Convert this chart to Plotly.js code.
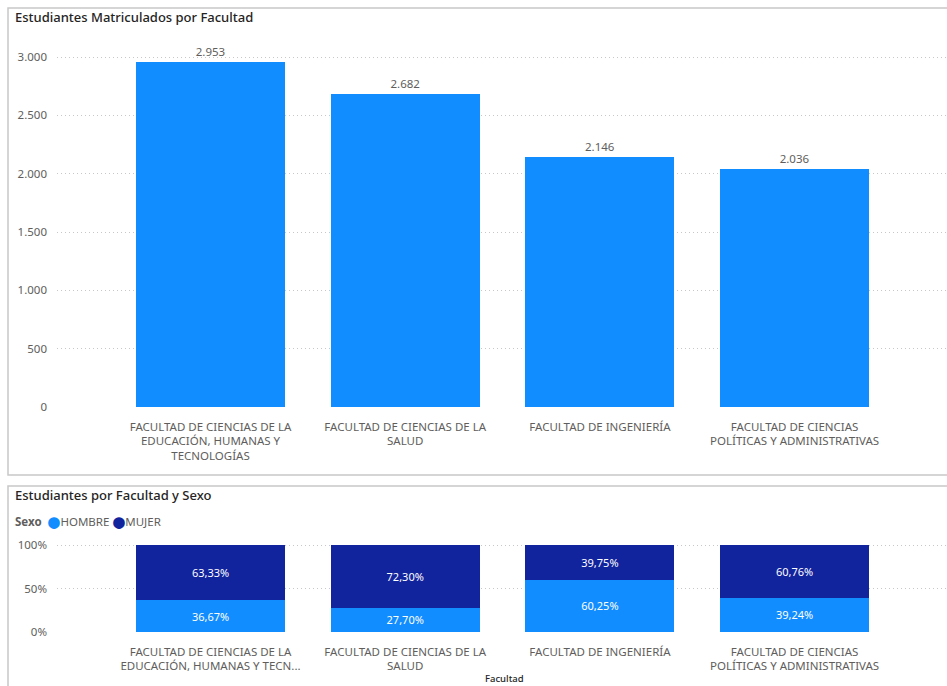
<!DOCTYPE html>
<html>
<head>
<meta charset="utf-8">
<script src="https://cdn.plot.ly/plotly-3.0.1.min.js"></script>
<style>html,body{margin:0;padding:0;background:#fff;}#chart{width:947px;height:686px;}</style>
</head>
<body>
<div id="chart"></div>
<script>
// ---- data ----
const facultades = ["CIENCIAS EDUCACIÓN", "CIENCIAS SALUD", "INGENIERÍA", "CIENCIAS POLÍTICAS"];
const etiquetasArriba = [
  "FACULTAD DE CIENCIAS DE LA<br>EDUCACIÓN, HUMANAS Y<br>TECNOLOGÍAS",
  "FACULTAD DE CIENCIAS DE LA<br>SALUD",
  "FACULTAD DE INGENIERÍA",
  "FACULTAD DE CIENCIAS<br>POLÍTICAS Y ADMINISTRATIVAS"
];
const etiquetasAbajo = [
  "FACULTAD DE CIENCIAS DE LA<br>EDUCACIÓN, HUMANAS Y TECN...",
  "FACULTAD DE CIENCIAS DE LA<br>SALUD",
  "FACULTAD DE INGENIERÍA",
  "FACULTAD DE CIENCIAS<br>POLÍTICAS Y ADMINISTRATIVAS"
];
const matriculados = [2953, 2682, 2146, 2036];
const hombre = [36.67, 27.70, 60.25, 39.24];
const mujer = [63.33, 72.30, 39.75, 60.76];
const yTicksTop = [0, 500, 1000, 1500, 2000, 2500, 3000];
const yTicksBottom = [0, 50, 100];
const yTickTextBottom = ["0%", "50%", "100%"];

// ---- style ----
const W = 947, H = 686;
const FONT = "Noto Sans, Segoe UI, sans-serif";
const C_LIGHT = "#118DFF", C_DARK = "#12239E";
const GRAY = "#605E5C", DARK = "#252423";
const px = x => x / W;
const py = y => 1 - y / H;
const idx = facultades.map((_, i) => i);

const traces = [
  {
    type: "bar", x: idx, y: matriculados, xaxis: "x", yaxis: "y",
    marker: {color: C_LIGHT}, width: 0.765,
    texttemplate: "%{y:,d}", textposition: "outside", cliponaxis: false,
    textfont: {family: FONT, size: 11.5, color: GRAY},
    hoverinfo: "skip", showlegend: false
  },
  {
    type: "bar", x: idx, y: hombre, xaxis: "x2", yaxis: "y2", name: "HOMBRE",
    marker: {color: C_LIGHT}, width: 0.765,
    texttemplate: "%{y:.2f}%", textposition: "inside", insidetextanchor: "middle",
    constraintext: "none",
    textfont: {family: FONT, size: 11, color: "#ffffff"},
    hoverinfo: "skip", showlegend: false
  },
  {
    type: "bar", x: idx, y: mujer, xaxis: "x2", yaxis: "y2", name: "MUJER",
    marker: {color: C_DARK}, width: 0.765,
    texttemplate: "%{y:.2f}%", textposition: "inside", insidetextanchor: "middle",
    constraintext: "none",
    textfont: {family: FONT, size: 11, color: "#ffffff"},
    hoverinfo: "skip", showlegend: false
  }
];

const xr = [-(210.5 - 57) / 194.7, (947 - 210.5) / 194.7];
const xaxisBase = {
  range: xr, showgrid: false, zeroline: false, showline: false, ticks: "",
  tickvals: idx, tickfont: {family: FONT, size: 11.5, color: GRAY},
  ticklabelstandoff: 11, fixedrange: true
};
const gridStyle = {showgrid: true, gridcolor: "#c8c8c8", griddash: "1px,3px", gridwidth: 1};

const layout = {
  width: W, height: H,
  margin: {l: 0, r: 0, t: 0, b: 0},
  paper_bgcolor: "#fff", plot_bgcolor: "#fff",
  separators: ",.",
  barmode: "stack",
  font: {family: FONT, color: GRAY},
  xaxis: Object.assign({}, xaxisBase, {domain: [px(57), 1], anchor: "y", ticktext: etiquetasArriba}),
  yaxis: Object.assign({
    domain: [py(407), py(40)], anchor: "x",
    range: [0, 3000 * (407 - 40) / 350],
    tickvals: yTicksTop, tickformat: ",d",
    zeroline: false, showline: false, ticks: "",
    tickfont: {family: FONT, size: 11.5, color: GRAY}, ticklabelstandoff: 9
  }, gridStyle),
  xaxis2: Object.assign({}, xaxisBase, {domain: [px(57), 1], anchor: "y2", ticktext: etiquetasAbajo}),
  yaxis2: Object.assign({
    domain: [py(632), py(540)], anchor: "x2",
    range: [0, 100 * (632 - 540) / 87],
    tickvals: yTicksBottom, ticktext: yTickTextBottom,
    zeroline: false, showline: false, ticks: "",
    tickfont: {family: FONT, size: 11.5, color: GRAY}, ticklabelstandoff: 9
  }, gridStyle),
  shapes: [
    {type: "rect", xref: "paper", yref: "paper", x0: px(8), x1: px(960), y0: py(475), y1: py(8),
     line: {color: "#c8c8c8", width: 1.5}, fillcolor: "rgba(0,0,0,0)", layer: "below"},
    {type: "rect", xref: "paper", yref: "paper", x0: px(8), x1: px(960), y0: py(700), y1: py(486),
     line: {color: "#c8c8c8", width: 1.5}, fillcolor: "rgba(0,0,0,0)", layer: "below"}
  ],
  annotations: [
    {xref: "paper", yref: "paper", x: px(13), y: py(17), xanchor: "left", yanchor: "middle",
     text: "Estudiantes Matriculados por Facultad", showarrow: false,
     font: {family: FONT, size: 13, color: DARK, weight: 500}},
    {xref: "paper", yref: "paper", x: px(13), y: py(495), xanchor: "left", yanchor: "middle",
     text: "Estudiantes por Facultad y Sexo", showarrow: false,
     font: {family: FONT, size: 13, color: DARK, weight: 500}},
    {xref: "paper", yref: "paper", x: px(13), y: py(521), xanchor: "left", yanchor: "middle",
     text: "<b>Sexo</b>  <span style='color:" + C_LIGHT + ";font-family:DejaVu Sans'>⬤</span>HOMBRE <span style='color:" + C_DARK + ";font-family:DejaVu Sans'>⬤</span>MUJER",
     showarrow: false, font: {family: FONT, size: 11.5, color: GRAY}},
    {xref: "paper", yref: "paper", x: px(505), y: 0, xanchor: "center", yanchor: "bottom",
     text: "Facultad", showarrow: false, borderpad: 0,
     font: {family: FONT, size: 9.5, color: DARK, weight: 500}}
  ]
};

Plotly.newPlot("chart", traces, layout, {staticPlot: true, displayModeBar: false});
</script>
</body>
</html>
